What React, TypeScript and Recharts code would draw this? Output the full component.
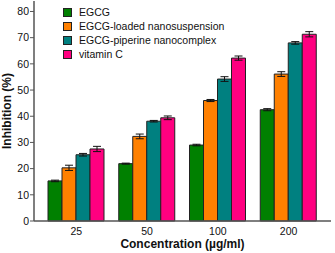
import React from "react";
import { BarChart, Bar, XAxis, YAxis, ErrorBar } from "recharts";

const categories = ["25", "50", "100", "200"];
const egcg = [15.3, 21.9, 29.0, 42.5];
const egcgErr = [0.3, 0.2, 0.3, 0.4];
const nanosusp = [20.3, 32.3, 46.0, 56.1];
const nanosuspErr = [1.0, 0.9, 0.4, 0.9];
const nanocomplex = [25.3, 38.1, 54.2, 68.0];
const nanocomplexErr = [0.5, 0.3, 0.9, 0.5];
const vitaminC = [27.5, 39.4, 62.2, 71.3];
const vitaminCErr = [1.0, 0.7, 0.8, 1.0];
const yTicks = [0, 10, 20, 30, 40, 50, 60, 70, 80];

const seriesNames = [
  "EGCG",
  "EGCG-loaded nanosuspension",
  "EGCG-piperine nanocomplex",
  "vitamin C",
];
const colors = ["#008000", "#FF8000", "#008080", "#FF0080"];

const data = categories.map((c, i) => ({
  cat: c,
  s0: egcg[i],
  e0: egcgErr[i],
  s1: nanosusp[i],
  e1: nanosuspErr[i],
  s2: nanocomplex[i],
  e2: nanocomplexErr[i],
  s3: vitaminC[i],
  e3: vitaminCErr[i],
}));

const FONT = "'Liberation Sans', Arial, sans-serif";

export default function App() {
  return (
    <div style={{ position: "absolute", left: 0, top: 0, width: 335, height: 253, background: "#fff" }}>
      <BarChart
        width={335}
        height={253}
        data={data}
        margin={{ top: 1, right: 4, bottom: 0, left: 0 }}
        barGap={0}
        barSize={14}
      >
        <XAxis
          dataKey="cat"
          height={32}
          padding={{ left: 7, right: 7 }}
          tickLine={false}
          axisLine={{ stroke: "#555", strokeWidth: 1.5 }}
          tick={{ fontSize: 10.5, fill: "#111", fontFamily: FONT }}
          tickMargin={1}
          label={{
            value: "Concentration (µg/ml)",
            position: "insideBottom",
            offset: 5,
            style: { fontSize: 12, fontWeight: "bold", fill: "#111", fontFamily: FONT },
          }}
        />
        <YAxis
          width={34}
          domain={[0, 84]}
          ticks={yTicks}
          interval={0}
          tickSize={4}
          tickLine={{ stroke: "#555", strokeWidth: 1 }}
          axisLine={{ stroke: "#555", strokeWidth: 1.5 }}
          tick={{ fontSize: 10.5, fill: "#111", fontFamily: FONT }}
          tickMargin={1}
          label={{
            value: "Inhibition (%)",
            angle: -90,
            position: "insideLeft",
            offset: 0,
            dx: 7,
            style: { fontSize: 12, fontWeight: "bold", fill: "#111", fontFamily: FONT, textAnchor: "middle" },
          }}
        />
        {[0, 1, 2, 3].map((k) => (
          <Bar
            key={k}
            dataKey={"s" + k}
            name={seriesNames[k]}
            fill={colors[k]}
            stroke="#222"
            strokeWidth={1}
            isAnimationActive={false}
          >
            <ErrorBar dataKey={"e" + k} width={4} stroke="#111" strokeWidth={1} />
          </Bar>
        ))}
      </BarChart>
      <div style={{ position: "absolute", left: 63, top: 5, fontFamily: FONT, fontSize: 10.5, color: "#111" }}>
        {seriesNames.map((n, i) => (
          <div key={n} style={{ display: "flex", alignItems: "center", height: 14 }}>
            <div
              style={{
                width: 9,
                height: 9,
                background: colors[i],
                border: "1px solid #222",
                boxSizing: "border-box",
                marginRight: 7,
              }}
            />
            <span>{n}</span>
          </div>
        ))}
      </div>
    </div>
  );
}
